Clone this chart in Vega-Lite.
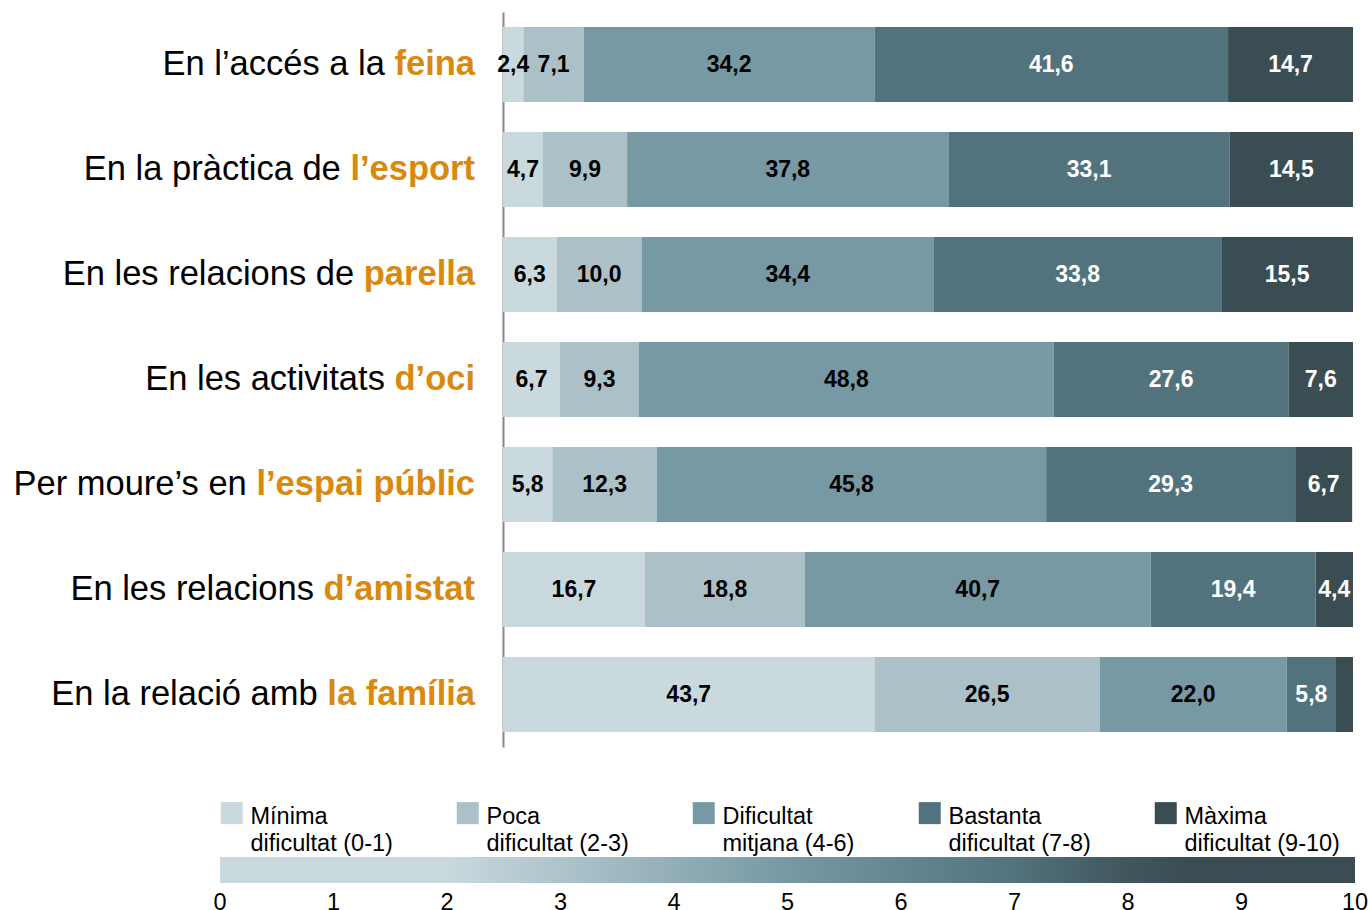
{
  "$schema": "https://vega.github.io/schema/vega-lite/v6.json",
  "width": 850,
  "height": 735,
  "autosize": {"type": "none"},
  "padding": {"left": 503, "top": 12, "right": 15, "bottom": 163},
  "config": {
    "view": {"stroke": null},
    "font": "Liberation Sans",
    "style": {"guide-label": {"lineHeight": 27}}
  },
  "datasets": {
    "bars": [
      {"cat": "En l’accés a la feina", "k": 1, "nivell": "Mínima dificultat (0-1)", "v": 2.4},
      {"cat": "En l’accés a la feina", "k": 2, "nivell": "Poca dificultat (2-3)", "v": 7.1},
      {"cat": "En l’accés a la feina", "k": 3, "nivell": "Dificultat mitjana (4-6)", "v": 34.2},
      {"cat": "En l’accés a la feina", "k": 4, "nivell": "Bastanta dificultat (7-8)", "v": 41.6},
      {"cat": "En l’accés a la feina", "k": 5, "nivell": "Màxima dificultat (9-10)", "v": 14.7},
      {"cat": "En la pràctica de l’esport", "k": 1, "nivell": "Mínima dificultat (0-1)", "v": 4.7},
      {"cat": "En la pràctica de l’esport", "k": 2, "nivell": "Poca dificultat (2-3)", "v": 9.9},
      {"cat": "En la pràctica de l’esport", "k": 3, "nivell": "Dificultat mitjana (4-6)", "v": 37.8},
      {"cat": "En la pràctica de l’esport", "k": 4, "nivell": "Bastanta dificultat (7-8)", "v": 33.1},
      {"cat": "En la pràctica de l’esport", "k": 5, "nivell": "Màxima dificultat (9-10)", "v": 14.5},
      {"cat": "En les relacions de parella", "k": 1, "nivell": "Mínima dificultat (0-1)", "v": 6.3},
      {"cat": "En les relacions de parella", "k": 2, "nivell": "Poca dificultat (2-3)", "v": 10.0},
      {"cat": "En les relacions de parella", "k": 3, "nivell": "Dificultat mitjana (4-6)", "v": 34.4},
      {"cat": "En les relacions de parella", "k": 4, "nivell": "Bastanta dificultat (7-8)", "v": 33.8},
      {"cat": "En les relacions de parella", "k": 5, "nivell": "Màxima dificultat (9-10)", "v": 15.5},
      {"cat": "En les activitats d’oci", "k": 1, "nivell": "Mínima dificultat (0-1)", "v": 6.7},
      {"cat": "En les activitats d’oci", "k": 2, "nivell": "Poca dificultat (2-3)", "v": 9.3},
      {"cat": "En les activitats d’oci", "k": 3, "nivell": "Dificultat mitjana (4-6)", "v": 48.8},
      {"cat": "En les activitats d’oci", "k": 4, "nivell": "Bastanta dificultat (7-8)", "v": 27.6},
      {"cat": "En les activitats d’oci", "k": 5, "nivell": "Màxima dificultat (9-10)", "v": 7.6},
      {"cat": "Per moure’s en l’espai públic", "k": 1, "nivell": "Mínima dificultat (0-1)", "v": 5.8},
      {"cat": "Per moure’s en l’espai públic", "k": 2, "nivell": "Poca dificultat (2-3)", "v": 12.3},
      {"cat": "Per moure’s en l’espai públic", "k": 3, "nivell": "Dificultat mitjana (4-6)", "v": 45.8},
      {"cat": "Per moure’s en l’espai públic", "k": 4, "nivell": "Bastanta dificultat (7-8)", "v": 29.3},
      {"cat": "Per moure’s en l’espai públic", "k": 5, "nivell": "Màxima dificultat (9-10)", "v": 6.7},
      {"cat": "En les relacions d’amistat", "k": 1, "nivell": "Mínima dificultat (0-1)", "v": 16.7},
      {"cat": "En les relacions d’amistat", "k": 2, "nivell": "Poca dificultat (2-3)", "v": 18.8},
      {"cat": "En les relacions d’amistat", "k": 3, "nivell": "Dificultat mitjana (4-6)", "v": 40.7},
      {"cat": "En les relacions d’amistat", "k": 4, "nivell": "Bastanta dificultat (7-8)", "v": 19.4},
      {"cat": "En les relacions d’amistat", "k": 5, "nivell": "Màxima dificultat (9-10)", "v": 4.4},
      {"cat": "En la relació amb la família", "k": 1, "nivell": "Mínima dificultat (0-1)", "v": 43.7},
      {"cat": "En la relació amb la família", "k": 2, "nivell": "Poca dificultat (2-3)", "v": 26.5},
      {"cat": "En la relació amb la família", "k": 3, "nivell": "Dificultat mitjana (4-6)", "v": 22.0},
      {"cat": "En la relació amb la família", "k": 4, "nivell": "Bastanta dificultat (7-8)", "v": 5.8},
      {"cat": "En la relació amb la família", "k": 5, "nivell": "Màxima dificultat (9-10)", "v": 2.0}
    ],
    "cats": [
      {"cat": "En l’accés a la feina", "lo": "En l’accés a la", "hi": "feina"},
      {"cat": "En la pràctica de l’esport", "lo": "En la pràctica de", "hi": "l’esport"},
      {"cat": "En les relacions de parella", "lo": "En les relacions de", "hi": "parella"},
      {"cat": "En les activitats d’oci", "lo": "En les activitats", "hi": "d’oci"},
      {"cat": "Per moure’s en l’espai públic", "lo": "Per moure’s en", "hi": "l’espai públic"},
      {"cat": "En les relacions d’amistat", "lo": "En les relacions", "hi": "d’amistat"},
      {"cat": "En la relació amb la família", "lo": "En la relació amb", "hi": "la família"}
    ],
    "scale010": [{"s": 0}, {"s": 10}]
  },
  "layer": [
    {
      "data": {"name": "bars"},
      "transform": [
        {"stack": "v", "groupby": ["cat"], "sort": [{"field": "k", "order": "ascending"}], "as": ["v0", "v1"]}
      ],
      "mark": {"type": "bar", "strokeWidth": 0},
      "encoding": {
        "y": {
          "field": "cat", "type": "nominal", "sort": null,
          "scale": {
            "domain": ["En l’accés a la feina", "En la pràctica de l’esport", "En les relacions de parella", "En les activitats d’oci", "Per moure’s en l’espai públic", "En les relacions d’amistat", "En la relació amb la família"],
            "paddingInner": 0.286, "paddingOuter": 0.143
          },
          "axis": {"labels": false, "ticks": false, "title": null, "grid": false, "domainColor": "#888888", "domainWidth": 2}
        },
        "x": {"field": "v0", "type": "quantitative", "scale": {"domain": [0, 100], "nice": false, "zero": true}, "axis": null},
        "x2": {"field": "v1"},
        "fill": {
          "field": "nivell", "type": "nominal",
          "scale": {
            "domain": ["Mínima dificultat (0-1)", "Poca dificultat (2-3)", "Dificultat mitjana (4-6)", "Bastanta dificultat (7-8)", "Màxima dificultat (9-10)"],
            "range": ["#C9D9DE", "#ABC1C7", "#7699A4", "#52737D", "#3A4D53"]
          },
          "legend": {
            "orient": "none", "legendX": -283, "legendY": 781,
            "direction": "horizontal", "columns": 5, "title": null,
            "symbolType": "M-1,-0.273L1,-0.273L1,1.727L-1,1.727Z",
            "symbolSize": 484, "symbolStrokeWidth": 0, "symbolOpacity": 1,
            "labelFont": "Liberation Sans", "labelFontSize": 23.5, "labelColor": "#000000",
            "labelBaseline": "top", "labelOffset": 7, "labelLimit": 300, "columnPadding": 63,
            "labelExpr": "[slice(datum.label, 0, indexof(datum.label, ' ')), slice(datum.label, indexof(datum.label, ' ') + 1)]"
          }
        }
      }
    },
    {
      "data": {"name": "bars"},
      "transform": [
        {"stack": "v", "groupby": ["cat"], "sort": [{"field": "k", "order": "ascending"}], "as": ["v0", "v1"]},
        {"calculate": "(datum.v0 + datum.v1) / 2", "as": "mid"},
        {"calculate": "replace(format(datum.v, '.1f'), '.', ',')", "as": "lbl"},
        {"filter": "datum.v > 2.1"}
      ],
      "mark": {"type": "text", "align": "center", "baseline": "middle", "font": "Liberation Sans", "fontSize": 23, "fontWeight": "bold"},
      "encoding": {
        "y": {"field": "cat", "type": "nominal", "sort": null},
        "x": {"field": "mid", "type": "quantitative"},
        "text": {"field": "lbl"},
        "color": {"condition": {"test": "datum.k >= 4", "value": "#FFFFFF"}, "value": "#000000"}
      }
    },
    {
      "data": {"name": "cats"},
      "mark": {"type": "text", "align": "right", "baseline": "middle", "dx": -28, "font": "Liberation Sans", "fontSize": 34.5, "fontWeight": "bold", "color": "#D9890E"},
      "encoding": {
        "y": {"field": "cat", "type": "nominal", "sort": null},
        "x": {"datum": 0, "type": "quantitative"},
        "text": {"field": "hi"}
      }
    },
    {
      "data": {"name": "cats"},
      "transform": [
        {"calculate": "34.5 * (278 + 611*length(datum.hi) - 333*length(replace(datum.hi, regexp('[^il’í ]','g'), '')) - 278*length(replace(datum.hi, regexp('[^ft]','g'), '')) - 222*length(replace(datum.hi, regexp('[^r]','g'), '')) - 55*length(replace(datum.hi, regexp('[^aesc]','g'), '')) + 278*length(replace(datum.hi, regexp('[^m]','g'), ''))) / 1000", "as": "w"}
      ],
      "mark": {"type": "text", "align": "right", "baseline": "middle", "dx": {"expr": "-28 - datum.w"}, "font": "Liberation Sans", "fontSize": 34.5, "color": "#000000"},
      "encoding": {
        "y": {"field": "cat", "type": "nominal", "sort": null},
        "x": {"datum": 0, "type": "quantitative"},
        "text": {"field": "lo"}
      }
    },
    {
      "data": {"name": "scale010"},
      "mark": {"type": "point", "opacity": 0},
      "encoding": {
        "stroke": {
          "field": "s", "type": "quantitative",
          "scale": {"domain": [0, 2, 5, 7, 8.3, 10], "range": ["#C9D9DE", "#C9D9DE", "#7699A4", "#52737D", "#3A4D53", "#3A4D53"], "interpolate": "rgb"},
          "legend": {
            "orient": "none", "legendX": -283, "legendY": 845, "direction": "horizontal", "title": null,
            "gradientLength": 1135, "gradientThickness": 26, "gradientStrokeWidth": 0,
            "values": [0, 1, 2, 3, 4, 5, 6, 7, 8, 9, 10], "format": "d",
            "labelFont": "Liberation Sans", "labelFontSize": 23.5, "labelColor": "#000000",
            "labelOffset": 8, "labelAlign": "center", "labelOverlap": false,
            "encode": {"labels": {"update": {"align": {"value": "center"}}}}
          }
        }
      }
    }
  ]
}
